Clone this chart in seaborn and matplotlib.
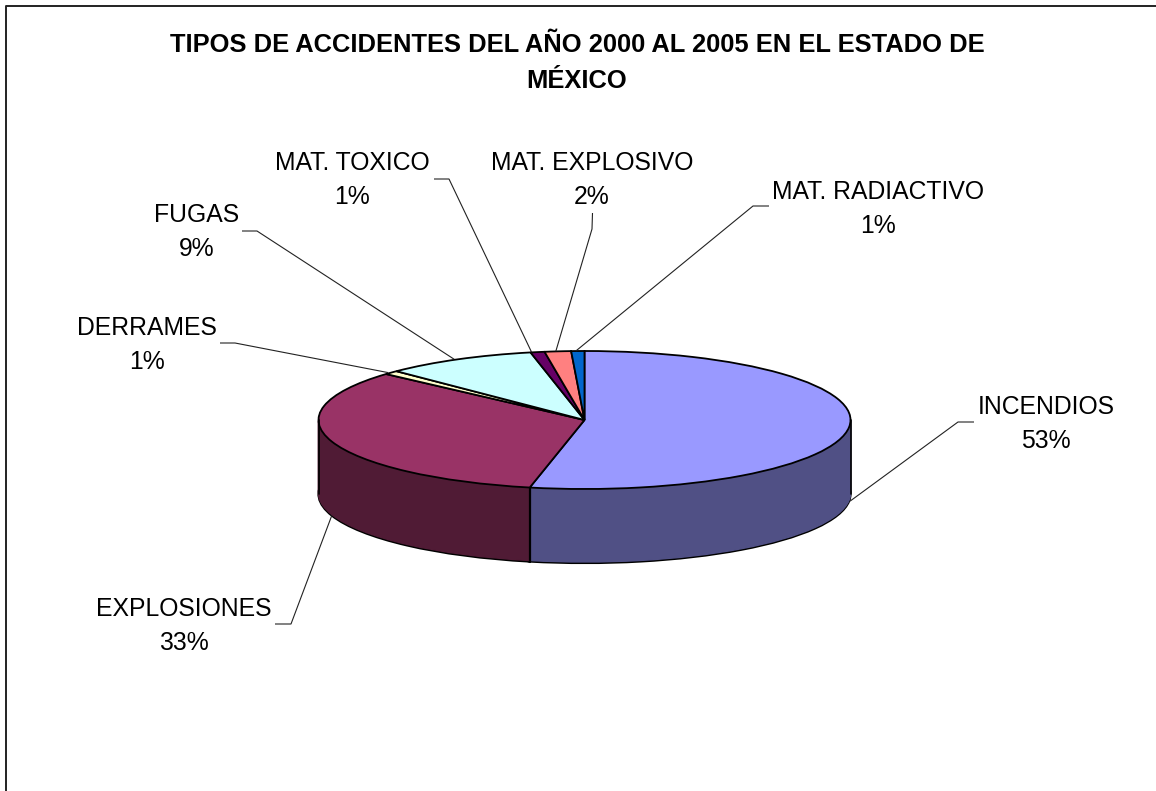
import numpy as np
import matplotlib
matplotlib.use("Agg")
import matplotlib.pyplot as plt
import seaborn as sns

title = "TIPOS DE ACCIDENTES DEL AÑO 2000 AL 2005 EN EL ESTADO DE\nMÉXICO"
categories = ["INCENDIOS", "EXPLOSIONES", "DERRAMES", "FUGAS",
              "MAT. TOXICO", "MAT. EXPLOSIVO", "MAT. RADIACTIVO"]
values = [53.3, 33.3, 0.9, 9.25, 0.85, 1.6, 0.8]
hex_colors = ["#9999FF", "#993366", "#FFFFCC", "#CCFFFF", "#660066", "#FF8080", "#0066CC"]

# layout, in image pixels
W, H = 1156, 791
CX, CY, RX, RY, DEPTH = 584.5, 420, 266, 69, 74
label_pos = [(1046, 424), (184, 626), (147, 345), (197, 232), (352, 180), (592, 180), (878, 209)]
leader_elbows = [
    [(974, 422), (958, 422)],
    [(275, 624), (291, 624)],
    [(220, 343), (235, 343)],
    [(242, 231), (257, 231)],
    [(434, 179), (449, 179)],
    [(592.5, 213), (592, 229)],
    [(769, 206), (753, 206)],
]
anchor_shift = [1, 0, -3, -4, -6, -2, -2]

sns.set_theme(style="white")
plt.rcParams["font.family"] = ["Liberation Sans", "DejaVu Sans"]

fig = plt.figure(figsize=(W / 100, H / 100), dpi=100, facecolor="white")
ax = fig.add_axes([0, 0, 1, 1])


def X(px):
    return (px - CX) / RX


def Y(py):
    return (CY - py) / RY


palette = sns.color_palette(hex_colors)
dark = [tuple(np.array(c) * 0.52) for c in palette]
depth_units = DEPTH / RY

# side wall: stacked layers of darker pies, the lowest one outlined
for k in range(DEPTH, 0, -1):
    outlined = k == DEPTH
    wedges, _ = ax.pie(values, colors=dark, startangle=90, counterclock=False, radius=1,
                       center=(0, -k / RY),
                       wedgeprops=dict(linewidth=1.6 if outlined else 1.0,
                                       edgecolor="black" if outlined else None))
    if not outlined:
        for w, c in zip(wedges, dark):
            w.set_edgecolor(c)

# top face
ax.pie(values, colors=palette, startangle=90, counterclock=False, radius=1, center=(0, 0),
       wedgeprops=dict(linewidth=1.3, edgecolor="black"))

# vertical edges of the side wall
fractions = np.cumsum(values) / np.sum(values)
theta_split = 2 * np.pi * fractions[0]  # clockwise from the top
sx, sy = np.sin(theta_split), np.cos(theta_split)
ax.plot([sx, sx], [sy, sy - depth_units], color="black", lw=1.6, zorder=3)
ax.plot([-1, -1], [0, -depth_units], color="black", lw=1.2, zorder=3)
ax.plot([1, 1], [0, -depth_units], color="black", lw=1.2, zorder=3)

# leader lines: elbow to the middle of each slice's rim
starts = np.concatenate([[0], fractions[:-1]])
mids = 2 * np.pi * (starts + fractions) / 2
for i, (mid, elbow, shift) in enumerate(zip(mids, leader_elbows, anchor_shift)):
    ex, ey = np.sin(mid) + shift / RX, np.cos(mid)
    if i < 2:  # slices at the front: leader meets the lower rim
        ey -= depth_units
    xs = [X(p[0]) for p in elbow] + [ex]
    ys = [Y(p[1]) for p in elbow] + [ey]
    ax.plot(xs, ys, color="#222222", lw=0.8, zorder=3, solid_capstyle="butt")

# data labels
for name, val, (px, py) in zip(categories, values, label_pos):
    ax.text(X(px), Y(py), f"{name}\n{round(val):d}%", ha="center", va="center",
            fontsize=17.8, color="black", linespacing=1.56)

ax.text(X(577), Y(63), title, ha="center", va="center", fontsize=18.4,
        fontweight="bold", color="black", linespacing=1.6)

# chart-area border (only top and left fall inside the picture)
ax.plot([X(6), X(6), X(W)], [Y(H), Y(6), Y(6)], color="#222222", lw=1.4, zorder=4)

ax.set_aspect("auto")
ax.set_xlim(X(0), X(W))
ax.set_ylim(Y(H), Y(0))
ax.axis("off")

fig.savefig("out.png", dpi=100, facecolor="white")
